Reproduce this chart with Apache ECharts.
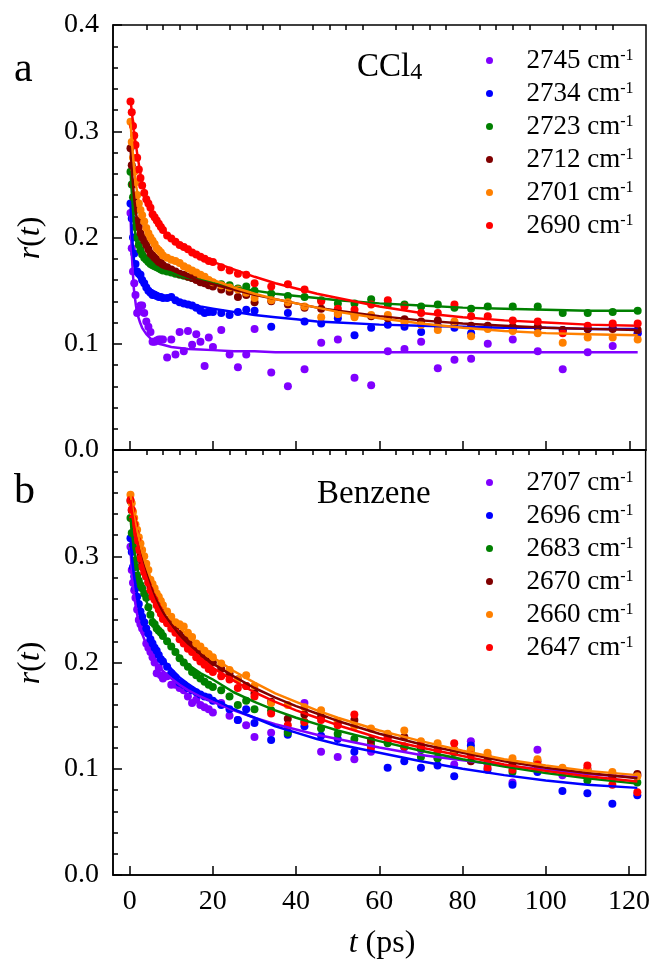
<!DOCTYPE html>
<html>
<head>
<meta charset="utf-8">
<script src="https://cdn.jsdelivr.net/npm/echarts@6/dist/echarts.min.js"></script>
<style>html,body{margin:0;padding:0;background:#fff;}#c{width:653px;height:961px;}</style>
</head>
<body>
<div id="c"></div>
<script>
// ---------- DATA ----------
const T = [0.2,0.5,0.8,1.1,1.4,1.8,2.2,2.6,3.0,3.5,4.0,4.5,5.0,5.5,6,6.5,7,7.5,8,9,10,11,12,13,14,15,16,17,18,19,20,22,24,26,28,30,34,38,42,46,50,54,58,62,66,70,74,78,82,86,92,98,104,110,116,122];
const topLabels = ['2745','2734','2723','2712','2701','2690'];
const botLabels = ['2707','2696','2683','2670','2660','2647'];
const xTicks = [0,20,40,60,80,100,120];
const xMinorTicks = [4,8,12,16,24,28,32,36,44,48,52,56,64,68,72,76,84,88,92,96,104,108,112,116];

const top_2745 = [0.223,0.190,0.168,0.157,0.146,0.129,0.131,0.136,0.136,0.129,0.121,0.116,0.111,0.102,0.102,0.103,0.104,0.104,0.104,0.087,0.104,0.090,0.111,0.093,0.112,0.099,0.109,0.102,0.079,0.106,0.097,0.113,0.090,0.078,0.090,0.114,0.073,0.060,0.076,0.101,0.104,0.068,0.061,0.093,0.095,0.102,0.077,0.085,0.086,0.100,0.104,0.093,0.076,0.092,0.098,0.110];
const top_2734 = [0.232,0.218,0.200,0.185,0.175,0.168,0.166,0.165,0.160,0.157,0.153,0.150,0.148,0.146,0.146,0.145,0.144,0.144,0.143,0.143,0.144,0.141,0.139,0.138,0.137,0.136,0.134,0.131,0.129,0.130,0.130,0.129,0.127,0.130,0.132,0.131,0.116,0.129,0.121,0.119,0.124,0.108,0.115,0.118,0.116,0.111,0.117,0.115,0.110,0.116,0.114,0.115,0.113,0.114,0.115,0.110];
const top_2723 = [0.262,0.250,0.238,0.225,0.210,0.200,0.193,0.188,0.184,0.181,0.179,0.177,0.175,0.174,0.173,0.172,0.171,0.170,0.169,0.168,0.167,0.166,0.165,0.164,0.163,0.162,0.161,0.160,0.159,0.158,0.157,0.156,0.155,0.152,0.154,0.150,0.147,0.145,0.144,0.141,0.138,0.138,0.142,0.137,0.137,0.135,0.137,0.134,0.133,0.135,0.135,0.135,0.129,0.129,0.130,0.131];
const top_2712 = [0.284,0.268,0.250,0.238,0.228,0.216,0.210,0.204,0.200,0.197,0.193,0.189,0.185,0.183,0.181,0.179,0.177,0.176,0.174,0.172,0.170,0.168,0.166,0.165,0.163,0.162,0.160,0.158,0.157,0.155,0.154,0.151,0.149,0.144,0.146,0.139,0.140,0.137,0.134,0.133,0.128,0.127,0.126,0.124,0.123,0.121,0.122,0.119,0.117,0.117,0.116,0.116,0.113,0.114,0.114,0.113];
const top_2701 = [0.309,0.290,0.275,0.262,0.252,0.240,0.232,0.226,0.221,0.215,0.209,0.204,0.200,0.197,0.194,0.190,0.188,0.186,0.183,0.181,0.179,0.178,0.176,0.173,0.171,0.169,0.167,0.165,0.163,0.160,0.158,0.155,0.153,0.151,0.148,0.143,0.141,0.139,0.135,0.125,0.128,0.125,0.127,0.127,0.120,0.118,0.113,0.121,0.107,0.114,0.112,0.110,0.101,0.106,0.106,0.104];
const top_2690 = [0.328,0.318,0.305,0.296,0.287,0.275,0.264,0.256,0.249,0.242,0.236,0.232,0.228,0.222,0.219,0.216,0.213,0.210,0.207,0.202,0.199,0.196,0.193,0.191,0.189,0.186,0.184,0.182,0.180,0.178,0.177,0.172,0.169,0.166,0.165,0.157,0.154,0.156,0.151,0.140,0.133,0.132,0.137,0.141,0.135,0.129,0.129,0.137,0.126,0.126,0.122,0.121,0.110,0.117,0.119,0.119];

const bot_2707 = [0.309,0.287,0.275,0.268,0.261,0.250,0.240,0.236,0.232,0.229,0.218,0.214,0.210,0.205,0.200,0.190,0.195,0.188,0.185,0.187,0.179,0.179,0.176,0.174,0.168,0.162,0.165,0.160,0.158,0.156,0.153,0.162,0.150,0.146,0.141,0.130,0.134,0.135,0.162,0.116,0.111,0.109,0.116,0.132,0.120,0.118,0.110,0.104,0.126,0.105,0.087,0.118,0.094,0.100,0.095,0.094];
const bot_2696 = [0.317,0.304,0.290,0.281,0.270,0.262,0.255,0.248,0.243,0.238,0.232,0.227,0.222,0.218,0.214,0.211,0.207,0.203,0.201,0.196,0.190,0.186,0.181,0.179,0.176,0.174,0.172,0.170,0.168,0.167,0.164,0.160,0.156,0.146,0.156,0.143,0.127,0.132,0.140,0.131,0.128,0.116,0.121,0.101,0.107,0.101,0.103,0.093,0.122,0.099,0.085,0.097,0.079,0.077,0.067,0.075];
const bot_2683 = [0.336,0.322,0.310,0.296,0.290,0.282,0.277,0.273,0.270,0.265,0.261,0.252,0.245,0.238,0.236,0.232,0.230,0.228,0.225,0.220,0.215,0.210,0.204,0.200,0.196,0.191,0.188,0.185,0.182,0.179,0.177,0.174,0.168,0.160,0.164,0.156,0.155,0.134,0.144,0.138,0.133,0.128,0.124,0.124,0.121,0.111,0.110,0.115,0.118,0.108,0.097,0.103,0.098,0.089,0.093,0.087];
const bot_2670 = [0.352,0.343,0.335,0.328,0.322,0.315,0.306,0.300,0.294,0.288,0.281,0.276,0.271,0.266,0.262,0.258,0.254,0.250,0.247,0.240,0.236,0.232,0.227,0.223,0.220,0.216,0.212,0.209,0.206,0.203,0.200,0.194,0.190,0.184,0.178,0.171,0.163,0.147,0.151,0.149,0.143,0.146,0.127,0.130,0.130,0.120,0.118,0.118,0.107,0.112,0.105,0.107,0.100,0.099,0.093,0.095];
const bot_2660 = [0.358,0.350,0.342,0.336,0.330,0.325,0.318,0.312,0.306,0.300,0.293,0.287,0.278,0.274,0.270,0.265,0.262,0.258,0.254,0.248,0.243,0.238,0.236,0.234,0.228,0.224,0.218,0.215,0.211,0.208,0.205,0.199,0.193,0.184,0.188,0.178,0.162,0.160,0.158,0.155,0.145,0.140,0.138,0.133,0.136,0.126,0.124,0.118,0.118,0.115,0.110,0.109,0.101,0.100,0.097,0.093];
const bot_2647 = [0.353,0.344,0.335,0.330,0.322,0.315,0.306,0.298,0.290,0.285,0.281,0.275,0.268,0.262,0.259,0.254,0.250,0.246,0.241,0.237,0.232,0.228,0.222,0.218,0.213,0.210,0.205,0.201,0.198,0.194,0.191,0.187,0.184,0.176,0.178,0.168,0.152,0.141,0.144,0.146,0.141,0.151,0.120,0.128,0.121,0.122,0.117,0.124,0.113,0.101,0.099,0.104,0.098,0.103,0.085,0.078];

// fit curves (at these times)
const TF = [0.2,0.5,1,1.5,2,2.5,3,4,5,6,7,8,10,12,14,17,20,25,30,35,40,45,50,60,70,80,90,100,110,122];
const fitTop_2745 = [0.222,0.185,0.152,0.136,0.126,0.120,0.115,0.109,0.105,0.102,0.100,0.099,0.097,0.096,0.095,0.0945,0.094,0.093,0.093,0.092,0.092,0.092,0.092,0.092,0.092,0.092,0.092,0.092,0.092,0.092];
const fitTop_2734 = [0.232,0.205,0.180,0.168,0.163,0.160,0.157,0.154,0.151,0.149,0.147,0.145,0.143,0.140,0.138,0.135,0.133,0.130,0.127,0.125,0.123,0.121,0.120,0.118,0.117,0.116,0.115,0.115,0.114,0.114];
const fitTop_2723 = [0.263,0.243,0.215,0.198,0.190,0.185,0.182,0.178,0.175,0.173,0.171,0.169,0.167,0.164,0.162,0.160,0.157,0.153,0.150,0.147,0.145,0.143,0.141,0.138,0.136,0.134,0.133,0.132,0.131,0.131];
const fitTop_2712 = [0.285,0.265,0.240,0.223,0.212,0.204,0.198,0.190,0.184,0.180,0.176,0.173,0.170,0.166,0.163,0.159,0.156,0.151,0.146,0.142,0.138,0.134,0.131,0.126,0.122,0.119,0.117,0.115,0.114,0.113];
const fitTop_2701 = [0.309,0.292,0.268,0.250,0.238,0.228,0.220,0.208,0.200,0.194,0.189,0.185,0.179,0.174,0.170,0.165,0.160,0.153,0.147,0.142,0.138,0.134,0.130,0.124,0.119,0.115,0.112,0.110,0.109,0.108];
const fitTop_2690 = [0.330,0.319,0.301,0.287,0.274,0.262,0.252,0.238,0.228,0.220,0.213,0.208,0.199,0.193,0.188,0.182,0.177,0.170,0.163,0.157,0.152,0.147,0.143,0.135,0.129,0.125,0.122,0.120,0.118,0.117];

const fitBot_2707 = [0.309,0.285,0.265,0.252,0.241,0.233,0.227,0.217,0.209,0.202,0.197,0.192,0.185,0.179,0.174,0.168,0.163,0.155,0.148,0.142,0.137,0.132,0.128,0.120,0.113,0.108,0.103,0.099,0.095,0.092];
const fitBot_2696 = [0.317,0.300,0.283,0.271,0.261,0.253,0.246,0.234,0.224,0.216,0.209,0.203,0.194,0.186,0.180,0.172,0.166,0.156,0.148,0.140,0.134,0.128,0.123,0.115,0.107,0.100,0.094,0.089,0.085,0.082];
const fitBot_2683 = [0.336,0.323,0.308,0.296,0.286,0.278,0.270,0.258,0.247,0.238,0.231,0.224,0.215,0.206,0.198,0.190,0.184,0.172,0.163,0.155,0.148,0.142,0.136,0.126,0.117,0.109,0.102,0.096,0.091,0.086];
const fitBot_2670 = [0.355,0.346,0.333,0.322,0.313,0.305,0.297,0.284,0.272,0.262,0.254,0.247,0.236,0.226,0.218,0.208,0.199,0.187,0.176,0.167,0.159,0.152,0.145,0.133,0.123,0.115,0.107,0.101,0.096,0.091];
const fitBot_2660 = [0.358,0.350,0.338,0.328,0.320,0.312,0.304,0.291,0.280,0.270,0.262,0.255,0.243,0.233,0.225,0.214,0.205,0.192,0.181,0.171,0.163,0.155,0.148,0.136,0.126,0.117,0.109,0.103,0.098,0.094];
const fitBot_2647 = [0.353,0.343,0.330,0.319,0.310,0.301,0.293,0.280,0.268,0.258,0.250,0.243,0.232,0.222,0.214,0.204,0.195,0.183,0.172,0.163,0.155,0.148,0.141,0.129,0.120,0.112,0.104,0.098,0.093,0.088];

// ---------- STYLE / BUILD ----------
const COLORS = ['#8000ff','#0000ff','#008000','#800000','#ff8000','#ff0000'];
const FONT = 'Liberation Serif';
const topData = [top_2745,top_2734,top_2723,top_2712,top_2701,top_2690];
const botData = [bot_2707,bot_2696,bot_2683,bot_2670,bot_2660,bot_2647];
const topFits = [fitTop_2745,fitTop_2734,fitTop_2723,fitTop_2712,fitTop_2701,fitTop_2690];
const botFits = [fitBot_2707,fitBot_2696,fitBot_2683,fitBot_2670,fitBot_2660,fitBot_2647];

const pair = (xs, ys) => xs.map((x, i) => [x, ys[i]]);
const series = [];
function addPanel(labels, data, fits, xIdx, yIdx) {
  labels.forEach((lab, k) => {
    series.push({
      type: 'scatter', name: lab, xAxisIndex: xIdx, yAxisIndex: yIdx,
      data: pair(T, data[k]), symbolSize: 8,
      itemStyle: { color: COLORS[k], opacity: 1 }, z: 2, silent: true
    });
  });
  labels.forEach((lab, k) => {
    series.push({
      type: 'line', name: 'fit' + lab, xAxisIndex: xIdx, yAxisIndex: yIdx,
      data: pair(TF, fits[k]), showSymbol: false, smooth: false,
      lineStyle: { color: COLORS[k], width: 2.5, join: 'round' }, itemStyle: { color: COLORS[k] }, z: 3, silent: true
    });
  });
}
addPanel(topLabels, topData, topFits, 0, 0);
addPanel(botLabels, botData, botFits, 2, 1);

const axisLineStyle = { color: '#000', width: 1.5 };
function xMajor(grid, showLabel) {
  return {
    gridIndex: grid, type: 'value', min: -4, max: 124,
    axisLine: { show: true, onZero: false, lineStyle: axisLineStyle },
    axisTick: { show: true, inside: true, length: 9, customValues: xTicks, lineStyle: axisLineStyle },
    axisLabel: { show: showLabel, customValues: xTicks, fontFamily: FONT, fontSize: 28, color: '#000', margin: 13 },
    splitLine: { show: false }
  };
}
function xMinor(grid) {
  return {
    gridIndex: grid, type: 'value', min: -4, max: 124,
    axisLine: { show: false, onZero: false },
    axisTick: { show: true, inside: true, length: 5, customValues: xMinorTicks, lineStyle: axisLineStyle },
    axisLabel: { show: false, customValues: xMinorTicks },
    splitLine: { show: false }
  };
}
function yAx(grid, showMax) {
  return {
    gridIndex: grid, type: 'value', min: 0, max: 0.4, interval: 0.1,
    axisLine: { show: true, onZero: false, lineStyle: axisLineStyle },
    axisTick: { show: true, inside: true, length: 9, lineStyle: axisLineStyle },
    minorTick: { show: true, splitNumber: 5, length: 5, lineStyle: axisLineStyle },
    axisLabel: { fontFamily: FONT, fontSize: 28, color: '#000', margin: 14, showMaxLabel: showMax,
                 formatter: v => v.toFixed(1) },
    splitLine: { show: false }, minorSplitLine: { show: false }
  };
}
const legendBase = {
  orient: 'vertical', left: 481, itemWidth: 64, itemHeight: 7, itemGap: 6, icon: 'circle',
  formatter: n => '{a|' + n + ' cm}{s|-1}',
  textStyle: { rich: {
    a: { fontFamily: FONT, fontSize: 27, lineHeight: 26, color: '#000' },
    s: { fontFamily: FONT, fontSize: 16, lineHeight: 16, verticalAlign: 'top', color: '#000' }
  } }
};
const txt = (x, y, text, size, extra) => Object.assign({
  type: 'text', x: x, y: y, silent: true,
  style: Object.assign({ text: text, fontFamily: FONT, fontSize: size, fill: '#000', verticalAlign: 'middle' }, extra || {})
});
const rTitle = (y) => ({
  type: 'text', x: 31, y: y, rotation: Math.PI / 2, silent: true,
  style: { text: '{i|r}{n|(}{i|t}{n|)}', align: 'center', verticalAlign: 'middle',
    rich: { i: { fontFamily: FONT, fontSize: 32, fontStyle: 'italic', fill: '#000' },
            n: { fontFamily: FONT, fontSize: 32, fill: '#000' } } }
});

const option = {
  animation: false,
  backgroundColor: '#fff',
  grid: [
    { left: 113, top: 25, width: 533, height: 425, show: true, borderColor: '#000', borderWidth: 1.5, backgroundColor: 'transparent' },
    { left: 113, top: 450, width: 533, height: 425, show: true, borderColor: '#000', borderWidth: 1.5, backgroundColor: 'transparent' }
  ],
  xAxis: [ xMajor(0, false), xMinor(0), xMajor(1, true), xMinor(1) ],
  yAxis: [ yAx(0, true), yAx(1, false) ],
  legend: [
    Object.assign({}, legendBase, { top: 42, data: topLabels }),
    Object.assign({}, legendBase, { top: 464, data: botLabels })
  ],
  graphic: [
    txt(14, 70, 'a', 42),
    txt(14, 492, 'b', 42),
    { type: 'text', x: 357, y: 67, silent: true, style: { text: '{n|CCl}{s|4}', verticalAlign: 'middle',
      rich: { n: { fontFamily: FONT, fontSize: 33, lineHeight: 36, fill: '#000' },
              s: { fontFamily: FONT, fontSize: 24, lineHeight: 24, verticalAlign: 'bottom', fill: '#000' } } } },
    txt(317, 494, 'Benzene', 33),
    rTitle(238),
    rTitle(663),
    { type: 'text', x: 382, y: 944, silent: true, style: { text: '{i|t}{n| (ps)}', align: 'center', verticalAlign: 'middle',
      rich: { i: { fontFamily: FONT, fontSize: 32, fontStyle: 'italic', fill: '#000' },
              n: { fontFamily: FONT, fontSize: 32, fill: '#000' } } } }
  ],
  series: series
};
echarts.init(document.getElementById('c'), null, { renderer: 'canvas' }).setOption(option);
</script>
</body>
</html>
